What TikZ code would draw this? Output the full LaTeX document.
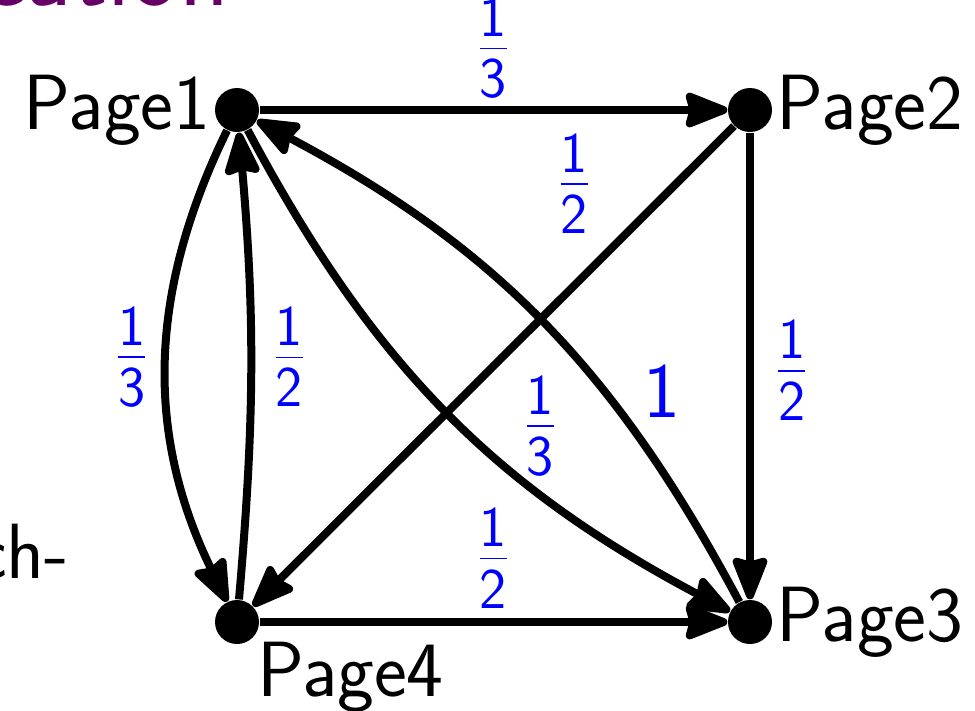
\documentclass[tikz,border=0pt]{standalone}
\usetikzlibrary{arrows.meta}
\definecolor{ink}{HTML}{000000}
\definecolor{weightblue}{HTML}{0000FF}
\definecolor{titlepurple}{HTML}{660066}
\tikzset{
  >={Stealth[length=15pt,width=11.5pt,inset=1.5pt,round]},
  every node/.style={font=\fontsize{23.5}{28}\selectfont\sffamily,text=ink},
  page/.style={circle,fill=ink,minimum size=13.2pt,inner sep=0pt},
  pagelabel/.style={inner sep=1pt},
  link/.style={->,line width=2.4pt,draw=ink},
  weight/.style={text=weightblue,inner sep=4pt},
  slidetext/.style={inner sep=0pt},
}
\newcommand{\wfrac}[2]{$\frac{\mathsf{#1}}{\mathsf{#2}}$}

\begin{document}
\begin{tikzpicture}[x=0.3pt,y=-0.3pt]
\useasboundingbox (0,0) rectangle (975,710);
\clip (0,0) rectangle (975,710);
% cut-off slide text
\node[slidetext,anchor=base east,text=titlepurple,font=\fontsize{31}{37}\selectfont\sffamily] (title) at (230,5) {cation};
\node[slidetext,anchor=base east] (hyph) at (70,578) {ch-};
% pages
\node[page,label={[pagelabel]left:Page1}] (p1) at (237,110) {};
\node[page,label={[pagelabel]right:Page2}] (p2) at (750,110) {};
\node[page,label={[pagelabel]right:Page3}] (p3) at (750,622) {};
\node[page,label={[pagelabel]below right:Page4}] (p4) at (237,622) {};
% links
\draw[link] (p1) -- node[weight,above,inner sep=2.5pt] {\wfrac{1}{3}} (p2);
\draw[link] (p2) -- node[weight,right,inner sep=6pt,pos=0.51] {\wfrac{1}{2}} (p3);
\draw[link] (p2) -- node[weight,pos=0.26,above left] {\wfrac{1}{2}} (p4);
\draw[link] (p4) -- node[weight,above,inner sep=3pt] {\wfrac{1}{2}} (p3);
\draw[link] (p1) to[bend right=26] node[weight,left,pos=0.48] {\wfrac{1}{3}} (p4);
\draw[link] (p4) to[bend right=5] node[weight,right,inner sep=5pt,pos=0.52] {\wfrac{1}{2}} (p1);
\draw[link] (p1) to[bend right=17] node[weight,pos=0.69,above] {\wfrac{1}{3}} (p3);
\draw[link] (p3) to[bend right=17] node[weight,pos=0.28,above right,inner sep=2pt] {1} (p1);
\end{tikzpicture}
\end{document}
